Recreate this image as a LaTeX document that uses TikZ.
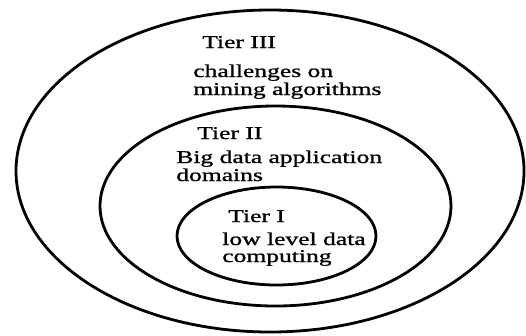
\documentclass[tikz,border=0pt]{standalone}
\usepackage{fontspec}
\setmainfont{Liberation Serif}
\newfontfamily\tierfont[FakeBold=0.9]{Liberation Serif}
\usetikzlibrary{shapes.geometric}
\begin{document}
\begin{tikzpicture}[x=1pt,y=-1pt,
  ring/.style={draw=black,line width=2.8pt,ellipse,inner sep=0pt},
  lbl/.style={anchor=base west,inner sep=0pt,xscale=1.42,transform shape,
    font=\tierfont\fontsize{18}{18}\selectfont}]
\useasboundingbox (0,0) rectangle (526,335);
\fill[white] (0,0) rectangle (526,335);
\node[ring,minimum width=508pt,minimum height=322pt] (outer) at (270,171) {};
\node[ring,minimum width=351pt,minimum height=200pt] (middle) at (275.5,206) {};
\node[ring,minimum width=199pt,minimum height=98pt] (inner) at (276.5,236) {};
\node[lbl] (t3) at (202,48) {Tier III};
\node[lbl] (t3a) at (193,77) {challenges on};
\node[lbl] (t3b) at (193,95) {mining algorithms};
\node[lbl] (t2) at (197,139) {Tier II};
\node[lbl] (t2a) at (176,163) {Big data application};
\node[lbl] (t2b) at (176,181) {domains};
\node[lbl] (t1) at (228,222) {Tier I};
\node[lbl] (t1a) at (222,245) {low level data};
\node[lbl] (t1b) at (222,262) {computing};
\end{tikzpicture}
\end{document}
